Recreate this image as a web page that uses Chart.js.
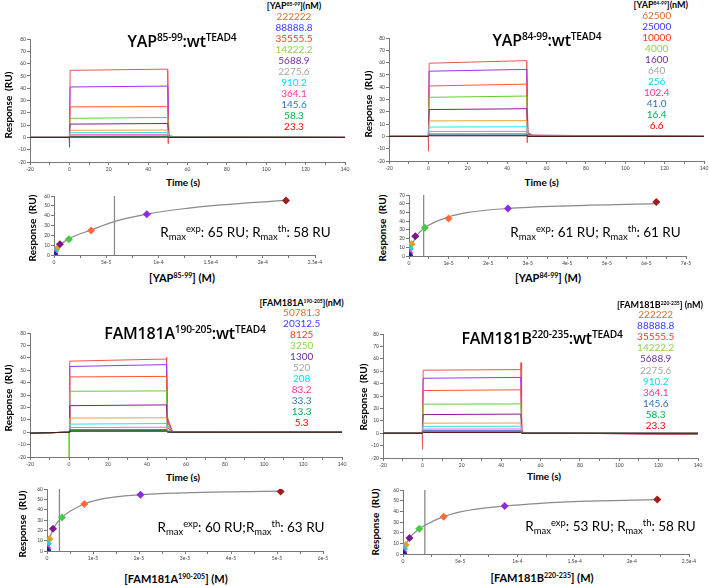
<!DOCTYPE html>
<html>
<head>
<meta charset="utf-8">
<script src="https://cdn.jsdelivr.net/npm/chart.js@4.4.1/dist/chart.umd.min.js"></script>
<style>
body{margin:0;width:709px;height:586px;position:relative;overflow:hidden;background:#fff;font-family:Lato,"Open Sans",sans-serif;}
canvas{position:absolute}
.t{position:absolute;white-space:nowrap;color:#000;transform:translate(-50%,-50%);line-height:1}
.title{font-family:"Open Sans",sans-serif;font-size:16px;font-weight:600;letter-spacing:-0.2px}
.title sup,.xt sup{font-size:64%;vertical-align:0.55em;line-height:0}
.rot{transform:translate(-50%,-50%) rotate(-90deg);font-size:10px;font-weight:700}
.ax{font-size:10px;font-weight:700}
.xt{font-size:11px;font-weight:700}
.rm{font-size:13.5px}
.rm sub{font-size:70%;vertical-align:-0.3em;line-height:0}
.rm sup{font-size:70%;vertical-align:0.6em;line-height:0}
.lh{font-size:9px;font-weight:700}
.lh sup{font-size:55%;vertical-align:0.6em;line-height:0}
.le{font-size:10px}
</style>
</head>
<body>
<canvas id="s1"></canvas><canvas id="s2"></canvas><canvas id="s3"></canvas><canvas id="s4"></canvas>
<canvas id="b1"></canvas><canvas id="b2"></canvas><canvas id="b3"></canvas><canvas id="b4"></canvas>
<script>
// ---- data ----
const legendColors = ['#d86f2c', '#3b3bff', '#ff3b1f', '#92d050', '#7030a0', '#a6a6a6', '#00e0ff', '#ff3399', '#2e75b6', '#00b050', '#ff0000'];
const sensColors = ['#e8555a', '#9933ff', '#ff5533', '#66cc33', '#8b1c8b', '#f0a040', '#33dddd', '#ff66cc', '#3366cc', '#229944', '#551111'];
const pointColors = ['#a01c1c', '#8b2be2', '#ff6a3d', '#44cc44', '#7a1a8a', '#e0a020', '#22ccdd', '#ee44ee', '#4040cc', '#3333aa', '#222288'];

const concYap85 = [222222, 88888.8, 35555.5, 14222.2, 5688.9, 2275.6, 910.2, 364.1, 145.6, 58.3, 23.3];
const concYap84 = [62500, 25000, 10000, 4000, 1600, 640, 256, 102.4, 41.0, 16.4, 6.6];
const concFamA = [50781.3, 20312.5, 8125, 3250, 1300, 520, 208, 83.2, 33.3, 13.3, 5.3];
const concFamB = [222222, 88888.8, 35555.5, 14222.2, 5688.9, 2275.6, 910.2, 364.1, 145.6, 58.3, 23.3];
const labelsYap85 = ['222222', '88888.8', '35555.5', '14222.2', '5688.9', '2275.6', '910.2', '364.1', '145.6', '58.3', '23.3'];
const labelsYap84 = ['62500', '25000', '10000', '4000', '1600', '640', '256', '102.4', '41.0', '16.4', '6.6'];
const labelsFamA = ['50781.3', '20312.5', '8125', '3250', '1300', '520', '208', '83.2', '33.3', '13.3', '5.3'];
const labelsFamB = labelsYap85;

// sensorgram time points (s); each row: response (RU) at those times
const sensTime = [-20, 0, 0.4, 50, 50.5, 53, 140];
const sensYap85 = [
  [0, 0, 54.5, 55.5, 1.5, 0.6, 0], [0, 0, 41, 41.7, 1.2, 0.5, 0], [0, 0, 24.8, 25, 1, 0.4, 0], [0, 0, 15.5, 16.2, 0.8, 0.3, 0],
  [0, 0, 10.8, 11.3, 0.6, 0.2, 0], [0, 0, 5.8, 6, 0.4, 0.1, 0], [0, 0, 3.8, 3.9, 0.2, 0.1, 0], [0, 0, 2.2, 2.3, 0.1, 0, 0],
  [0, 0, 1, 1.1, 0, 0, 0], [0, 0, 0.5, 0.5, 0, 0, 0], [0, 0, 0.2, 0.2, 0, 0, 0]];
const sensYap84 = [
  [0, 0, 59.5, 61.6, 3, 1, 0], [0, 0, 53, 54.5, 2.6, 0.9, 0], [0, 0, 41, 42.5, 2.2, 0.8, 0], [0, 0, 31.8, 32.8, 1.8, 0.6, 0],
  [0, 0, 21.8, 22.5, 1.4, 0.5, 0], [0, 0, 12.6, 12.8, 1, 0.3, 0], [0, 0, 7.6, 7.8, 0.6, 0.2, 0], [0, 0, 4, 4.1, 0.4, 0.1, 0],
  [0, 0, 2, 2, 0.2, 0, 0], [0, 0, 1, 1, 0.1, 0, 0], [0, 0, 0.5, 0.5, 0, 0, 0]];
const sensFamA = [
  [-0.8, 0, 57.3, 59, 12, 0.4, 0], [-0.8, 0, 53, 54.5, 10, 0.4, 0], [-0.8, 0, 44.6, 45, 8, 0.3, 0], [-0.8, 0, 33, 33.3, 6, 0.3, 0],
  [-0.8, 0, 21.4, 22, 4, 0.2, 0], [-0.8, 0, 11.4, 11.6, 2, 0.1, 0], [-0.8, 0, 6.5, 7, 1.2, 0.1, 0], [-0.8, 0, 3.8, 4, 0.7, 0, 0],
  [-0.8, 0, 2, 2.1, 0.4, 0, 0], [-0.8, 0, 1.3, 1.3, 0.2, 0, 0], [-0.8, 0, 0.8, 0.8, 0.1, 0, 0]];
const sensFamB = [
  [0, 0, 50.8, 51.3, 1, 0.3, -1], [0, 0, 44.3, 45, 0.8, 0.3, -1], [0, 0, 34.4, 35, 0.7, 0.2, -0.8], [0, 0, 23.4, 23.6, 0.5, 0.2, -0.6],
  [0, 0, 15, 15.4, 0.4, 0.1, -0.5], [0, 0, 8.1, 8.2, 0.3, 0.1, -0.4], [0, 0, 5.5, 5.6, 0.2, 0, -0.3], [0, 0, 3.3, 3.4, 0.1, 0, -0.2],
  [0, 0, 2, 2, 0, 0, -0.1], [0, 0, 1.2, 1.2, 0, 0, 0], [0, 0, 0.6, 0.6, 0, 0, 0]];
// injection spikes
const spikeT = [-0.1, 0, 0.2];
const spikeYap85 = [0, -8, 1];
const spikeYap84 = [0, -12, 2];
const spikeFamA = [0, -20, 3];
const spikeFamB = [0, -13, 2];
const spikeEndT = [49.9, 50.1, 50.4];
const spikeEndYap85 = [55, -5, 0];
const spikeEndYap84 = [61, -5, 1];
const spikeEndFamA = [58, 60.5, 12];
const spikeEndFamB = [51, 57, 0.5];

// steady-state binding responses (RU)
const bindYap85 = [55.5, 41.5, 25, 16, 11, 6, 3.5, 1.5, 0.5, 0.2, 0.1];
const bindYap84 = [62, 54.5, 43, 32.5, 22.6, 13.4, 8.4, 3.8, 1.5, 0.6, 0.2];
const bindFamA = [57.5, 54.5, 45.5, 32.5, 21.5, 11.5, 7, 3, 1.5, 0.6, 0.2];
const bindFamB = [51, 45, 35, 23.6, 15, 8.4, 5, 2, 1, 0.5, 0.2];
// fitted curves
const fitYap85X = [0, 2.3e-6, 5.7e-6, 1.42e-5, 3.56e-5, 5.79e-5, 8.89e-5, 1.2e-4, 1.6e-4, 2.22e-4];
const fitYap85Y = [0, 5, 10, 16.5, 25.5, 34, 41.5, 46.5, 51, 55.5];
const fitYap84X = [0, 4e-7, 1.6e-6, 4e-6, 1e-5, 1.5e-5, 2.5e-5, 4e-5, 6.25e-5];
const fitYap84Y = [0, 7, 21, 32.5, 44.8, 50, 54.5, 57.5, 60];
const fitFamAX = [0, 5.2e-7, 1.3e-6, 3.25e-6, 8.1e-6, 1.2e-5, 2.03e-5, 3e-5, 4e-5, 5.08e-5];
const fitFamAY = [0, 11, 21, 32.5, 45.5, 50.5, 54.5, 56.3, 57.3, 58];
const fitFamBX = [0, 2.3e-6, 5.7e-6, 1.42e-5, 1.91e-5, 3.56e-5, 5e-5, 8.89e-5, 1.2e-4, 1.6e-4, 2.22e-4];
const fitFamBY = [0, 8, 15, 23.5, 27, 35, 39.5, 45, 47.5, 49.5, 51];
const kdYap85 = 5.79e-5, kdYap84 = 3.7e-6, kdFamA = 2.7e-6, kdFamB = 1.91e-5;
// x tick labels for binding plots
const bTicks1 = ['0', '5e-5', '1e-4', '1.5e-4', '2e-4', '2.5e-4'];
const bTicks2 = ['0', '1e-5', '2e-5', '3e-5', '4e-5', '5e-5', '6e-5', '7e-5'];
const bTicks3 = ['0', '1e-5', '2e-5', '3e-5', '4e-5', '5e-5', '6e-5'];
const bTicks4 = bTicks1;

// ---- helpers ----
const tickFont = { family: 'Lato, sans-serif', size: 5 };

function place(id, box, yw, xh, pt, pr) {
  const c = document.getElementById(id);
  const w = Math.round(box.r - box.l + yw + pr);
  const h = Math.round(box.b - box.t + pt + xh);
  c.style.left = (box.l - yw) + 'px';
  c.style.top = (box.t - pt) + 'px';
  c.width = w; c.height = h;
  c.style.width = w + 'px'; c.style.height = h + 'px';
  return c;
}

function axis(min, max, step, yw, xh, cb, isX) {
  return {
    type: 'linear', min: min, max: max,
    ticks: { stepSize: step, font: tickFont, color: '#444', padding: 1, autoSkip: false, maxRotation: 0, callback: cb },
    grid: { drawOnChartArea: false, tickLength: 3, color: '#777' },
    border: { color: '#777' },
    afterFit: s => { if (isX) s.height = xh; else s.width = yw; }
  };
}

function sensorgram(id, box, rows, spike, spikeEnd, spikeColor, endColor) {
  const c = place(id, box, 28, 12, 6, 6);
  const ds = rows.map((r, i) => ({
    data: sensTime.map((t, k) => ({ x: t, y: r[k] })),
    borderColor: sensColors[i], borderWidth: 1, pointRadius: 0, tension: 0
  })).reverse();
  ds.push({ data: spikeT.map((t, k) => ({ x: t, y: spike[k] })), borderColor: spikeColor, borderWidth: 1, pointRadius: 0 });
  ds.push({ data: spikeEndT.map((t, k) => ({ x: t, y: spikeEnd[k] })), borderColor: endColor, borderWidth: 1, pointRadius: 0 });
  new Chart(c, {
    type: 'line',
    data: { datasets: ds },
    options: {
      responsive: false, animation: false,
      layout: { padding: { top: 6, right: 6, left: 0, bottom: 0 } },
      plugins: { legend: { display: false }, tooltip: { enabled: false } },
      scales: {
        x: axis(-20, 140, 10, 28, 12, v => (v % 20 === 0 ? v : ''), true),
        y: axis(-20, 80, 10, 28, 12, v => v, false)
      }
    }
  });
}

function binding(id, box, conc, resp, fx, fy, kd, xmax, xstep, labels, ymax) {
  const c = place(id, box, 20, 12, 6, 10);
  new Chart(c, {
    type: 'line',
    data: {
      datasets: [
        { data: conc.map((v, i) => ({ x: v * 1e-9, y: resp[i] })), showLine: false, pointStyle: 'rectRot',
          pointRadius: 4, pointBorderWidth: 0, pointBackgroundColor: pointColors, borderColor: 'transparent' },
        { data: fx.map((v, i) => ({ x: v, y: fy[i] })), borderColor: '#8a8a8a', borderWidth: 1.2, pointRadius: 0,
          cubicInterpolationMode: 'monotone' },
        { data: [{ x: kd, y: 0 }, { x: kd, y: ymax }], borderColor: '#8a8a8a', borderWidth: 1.3, pointRadius: 0 }
      ]
    },
    options: {
      responsive: false, animation: false,
      layout: { padding: { top: 6, right: 10, left: 0, bottom: 0 } },
      plugins: { legend: { display: false }, tooltip: { enabled: false } },
      scales: {
        x: axis(0, xmax, xstep, 20, 12, (v, i) => (i % 2 === 0 ? labels[i / 2] : ''), true),
        y: axis(0, ymax, 10, 20, 12, v => v, false)
      }
    }
  });
}

sensorgram('s1', { l: 30, r: 345, t: 39, b: 162 }, sensYap85, spikeYap85, spikeEndYap85, '#3366cc', '#e8555a');
sensorgram('s2', { l: 389.3, r: 704, t: 38.3, b: 161 }, sensYap84, spikeYap84, spikeEndYap84, '#e8555a', '#e8555a');
sensorgram('s3', { l: 30, r: 341.7, t: 333.3, b: 457.3 }, sensFamA, spikeFamA, spikeEndFamA, '#66cc33', '#e8555a');
sensorgram('s4', { l: 383.3, r: 698.3, t: 334, b: 458.3 }, sensFamB, spikeFamB, spikeEndFamB, '#e8555a', '#e8555a');

binding('b1', { l: 53.7, r: 315, t: 195.7, b: 254.3 }, concYap85, bindYap85, fitYap85X, fitYap85Y, kdYap85, 2.5e-4, 2.5e-5, bTicks1, 60);
binding('b2', { l: 409.3, r: 686, t: 194.7, b: 255.7 }, concYap84, bindYap84, fitYap84X, fitYap84Y, kdYap84, 7e-5, 5e-6, bTicks2, 70);
binding('b3', { l: 46.7, r: 323, t: 489.3, b: 551.7 }, concFamA, bindFamA, fitFamAX, fitFamAY, kdFamA, 6e-5, 5e-6, bTicks3, 60);
binding('b4', { l: 403.3, r: 689, t: 490, b: 554.3 }, concFamB, bindFamB, fitFamBX, fitFamBY, kdFamB, 2.5e-4, 2.5e-5, bTicks4, 60);

// ---- text ----
function txt(cls, x, y, html, color) {
  const d = document.createElement('div');
  d.className = 't ' + cls;
  d.style.left = x + 'px'; d.style.top = y + 'px';
  if (color) d.style.color = color;
  d.innerHTML = html;
  document.body.appendChild(d);
}
function legend(x, y0, dy, hx, hy, header, labels) {
  txt('lh', hx, hy, header);
  labels.forEach((l, i) => txt('le', x, y0 + i * dy, l, legendColors[i]));
}

txt('title', 182, 41, 'YAP<sup>85-99</sup>:wt<sup>TEAD4</sup>');
txt('title', 547, 40, 'YAP<sup>84-99</sup>:wt<sup>TEAD4</sup>');
txt('title', 185, 333, 'FAM181A<sup>190-205</sup>:wt<sup>TEAD4</sup>');
txt('title', 542, 338, 'FAM181B<sup>220-235</sup>:wt<sup>TEAD4</sup>');

legend(294, 15.7, 11.03, 294, 5, '[YAP<sup>85-99</sup>](nM)', labelsYap85);
legend(656.7, 14.7, 11.06, 660.8, 4, '[YAP<sup>84-99</sup>](nM)', labelsYap84);
legend(301.7, 312.3, 10.94, 301.7, 301.7, '[FAM181A<sup>190-205</sup>](nM)', labelsFamA);
legend(655.7, 314.3, 11.04, 660, 304, '[FAM181B<sup>220-235</sup>] (nM)', labelsFamB);

txt('rot', 7.5, 105, 'Response&nbsp;&nbsp;(RU)');
txt('rot', 368, 103.5, 'Response&nbsp;&nbsp;(RU)');
txt('rot', 7.5, 397.5, 'Response&nbsp;&nbsp;(RU)');
txt('rot', 363, 397, 'Response&nbsp;&nbsp;(RU)');
txt('rot', 32, 228, 'Response&nbsp;&nbsp;(RU)');
txt('rot', 382, 228, 'Response&nbsp;&nbsp;(RU)');
txt('rot', 21.7, 524, 'Response&nbsp;&nbsp;(RU)');
txt('rot', 375, 522, 'Response&nbsp;&nbsp;(RU)');

txt('ax', 183, 182, 'Time (s)');
txt('ax', 541.7, 182, 'Time (s)');
txt('ax', 183, 477, 'Time (s)');
txt('ax', 544, 476, 'Time (s)');

txt('xt', 182, 277, '[YAP<sup>85-99</sup>] (M)');
txt('xt', 548, 277, '[YAP<sup>84-99</sup>] (M)');
txt('xt', 176, 578, '[FAM181A<sup>190-205</sup>] (M)');
txt('xt', 542, 577, '[FAM181B<sup>220-235</sup>] (M)');

txt('rm', 245.5, 233, 'R<sub>max</sub><sup>exp</sup>: 65 RU; R<sub>max</sub><sup>th</sup>: 58 RU');
txt('rm', 595.5, 233, 'R<sub>max</sub><sup>exp</sup>: 61 RU; R<sub>max</sub><sup>th</sup>: 61 RU');
txt('rm', 241, 528, 'R<sub>max</sub><sup>exp</sup>: 60 RU;R<sub>max</sub><sup>th</sup>: 63 RU');
txt('rm', 610.5, 527, 'R<sub>max</sub><sup>exp</sup>: 53 RU; R<sub>max</sub><sup>th</sup>: 58 RU');
</script>
</body>
</html>
